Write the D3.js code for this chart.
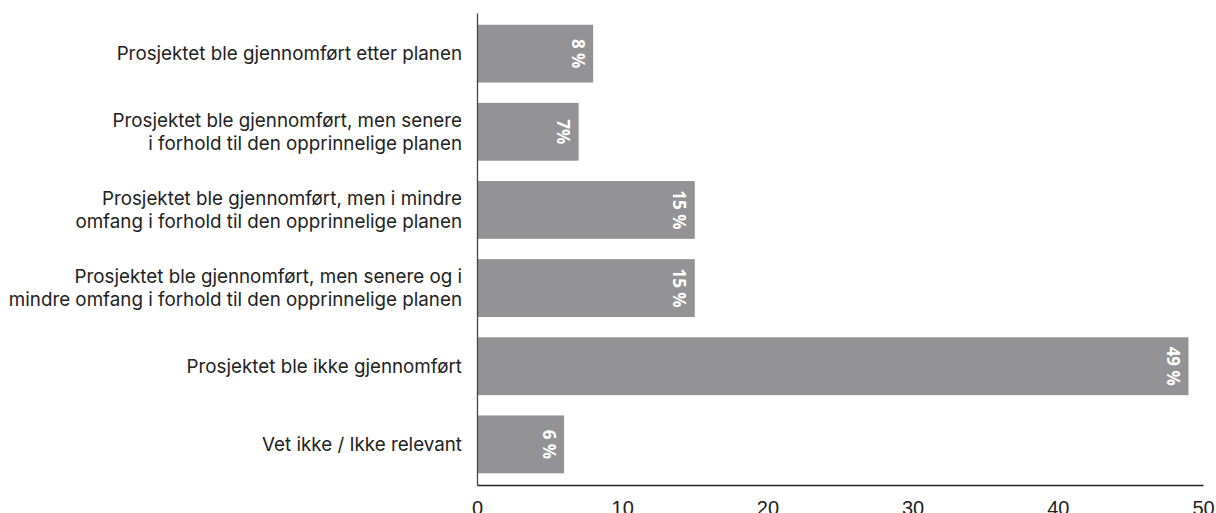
<!DOCTYPE html>
<html><head><meta charset="utf-8">
<script src="https://cdn.jsdelivr.net/npm/d3@7"></script>
<style>html,body{margin:0;padding:0;background:#fff;overflow:hidden}</style>
</head><body>
<svg id="c" width="1216" height="513"></svg>
<script>
const categories = [
  ["Prosjektet ble gjennomført etter planen"],
  ["Prosjektet ble gjennomført, men senere", "i forhold til den opprinnelige planen"],
  ["Prosjektet ble gjennomført, men i mindre", "omfang i forhold til den opprinnelige planen"],
  ["Prosjektet ble gjennomført, men senere og i", "mindre omfang i forhold til den opprinnelige planen"],
  ["Prosjektet ble ikke gjennomført"],
  ["Vet ikke / Ikke relevant"]
];
const values = [8, 7, 15, 15, 49, 6];
const valueLabels = ["8 %", "7%", "15 %", "15 %", "49 %", "6 %"];
const xTicks = [0, 10, 20, 30, 40, 50];

const svg = d3.select("#c");
const x = d3.scaleLinear().domain([0, 50]).range([477, 1203]);
const y = d3.scaleBand().domain(d3.range(categories.length)).range([13, 485]).paddingInner(0.26).paddingOuter(0.15);

svg.selectAll("rect.bar").data(values).join("rect")
  .attr("class", "bar")
  .attr("x", x(0)).attr("y", (d, i) => y(i))
  .attr("width", d => x(d) - x(0)).attr("height", y.bandwidth())
  .attr("fill", "#939396");

svg.selectAll("text.val").data(values).join("text")
  .attr("class", "val")
  .attr("transform", (d, i) => `translate(${x(d) - 9 - 12.5},${y(i) + y.bandwidth() / 2}) rotate(90)`)
  .attr("text-anchor", "middle")
  .attr("font-family", "'Open Sans', sans-serif")
  .attr("font-weight", 700)
  .attr("font-size", 17)
  .attr("fill", "#fff")
  .text((d, i) => valueLabels[i]);

// category labels
const lab = svg.selectAll("text.cat").data(categories).join("text")
  .attr("class", "cat")
  .attr("text-anchor", "end")
  .attr("font-family", "Inter, sans-serif")
  .attr("font-size", 18.8)
  .attr("fill", "#222");
lab.each(function(lines, i) {
  const cy = y(i) + y.bandwidth() / 2;
  const lh = 23;
  const t = d3.select(this);
  lines.forEach((ln, k) => {
    t.append("tspan").attr("x", 462)
      .attr("y", cy + (k - (lines.length - 1) / 2) * lh + 6.5)
      .text(ln);
  });
});

// axes
const xAxis = d3.axisBottom(x).tickValues(xTicks).tickSize(0).tickPadding(15.5);
const gx = svg.append("g").attr("transform", "translate(0,485)").call(xAxis);
gx.select(".domain").attr("stroke", "#222").attr("stroke-width", 1.3);
gx.selectAll("text").attr("font-family", "'Liberation Sans', Arial, sans-serif").attr("font-size", 20).attr("fill", "#222");

const yAxis = d3.axisLeft(y).tickValues([]).tickSize(0);
const gy = svg.append("g").attr("transform", "translate(477,0)").call(yAxis);
gy.select(".domain").attr("stroke", "#444").attr("stroke-width", 1.3);
</script>
</body></html>
